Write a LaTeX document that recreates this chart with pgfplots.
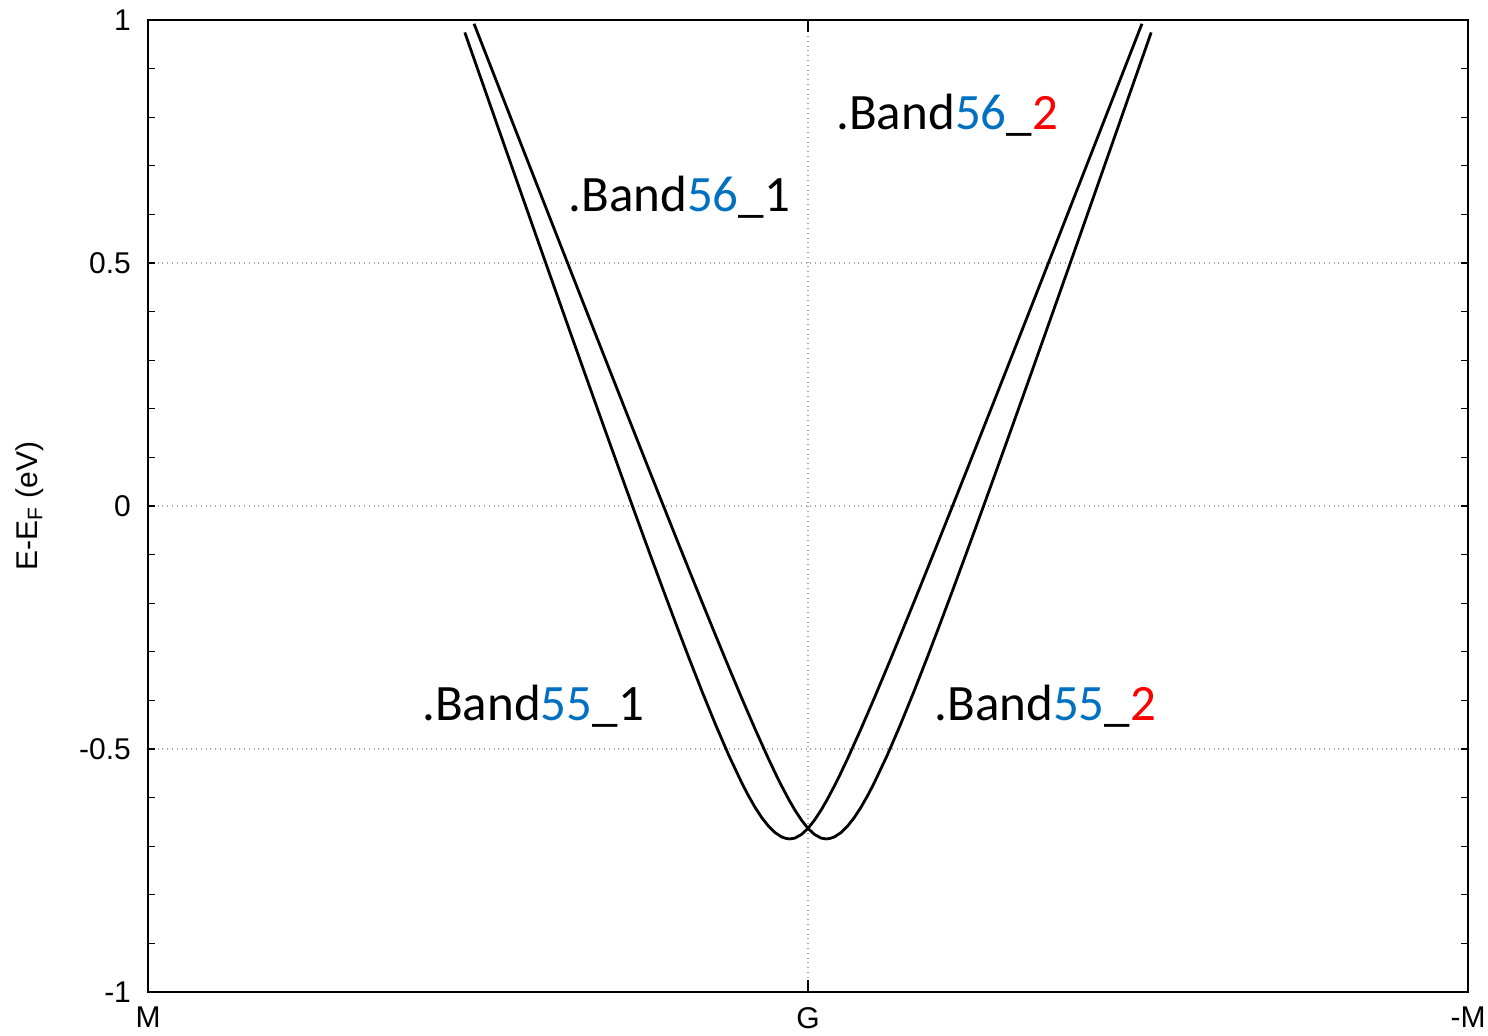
\documentclass[border=0pt]{standalone}
\usepackage{fontspec}
\setmainfont{Liberation Sans}
\newfontfamily\calibri{Carlito}
\usepackage{pgfplots}
\pgfplotsset{compat=1.18}
\definecolor{bandblue}{HTML}{0070C0}
\definecolor{bandred}{HTML}{FF0000}
\newcommand{\bandfont}{\calibri\fontsize{25.5}{30}\selectfont}
\begin{document}
\begin{tikzpicture}
\begin{axis}[
  scale only axis,
  width=660pt, height=486pt,
  xmin=-1, xmax=1, ymin=-1, ymax=1,
  axis line style={line width=1.2pt},
  font=\fontsize{15}{18}\selectfont,
  xtick={-1,0,1},
  xticklabels={M,G,-M},
  ytick={-1,-0.5,0,0.5,1},
  yticklabels={-1,-0.5,0,0.5,1},
  minor ytick={-0.9,-0.8,-0.7,-0.6,-0.4,-0.3,-0.2,-0.1,0.1,0.2,0.3,0.4,0.6,0.7,0.8,0.9},
  tick align=inside,
  major tick length=3.5pt,
  minor tick length=3.5pt,
  xtick style={/pgfplots/major tick length=6pt},
  tick style={line width=0.6pt, black},
  xticklabel style={yshift=-4pt},
  yticklabel style={xshift=-5pt},
  grid=major,
  major grid style={dotted, gray!70, line width=0.6pt},
  ylabel={E-E\textsubscript{F} (eV)},
  ylabel style={at={(axis description cs:-0.0894,0.5)}, anchor=center},
  clip=false,
]
% band with minimum left of G
\addplot[black, line width=1.4pt, line join=round] coordinates {
(-0.52,0.9744)(-0.50,0.8968)(-0.48,0.8193)(-0.46,0.7418)(-0.44,0.6644)(-0.42,0.5872)
(-0.40,0.5101)(-0.38,0.4332)(-0.36,0.3565)(-0.34,0.2800)(-0.32,0.2038)(-0.30,0.1279)
(-0.28,0.0524)(-0.26,-0.0225)(-0.24,-0.0969)(-0.22,-0.1704)(-0.20,-0.2429)(-0.18,-0.3141)
(-0.16,-0.3834)(-0.14,-0.4501)(-0.12,-0.5131)(-0.10,-0.5707)(-0.09,-0.5968)(-0.08,-0.6205)
(-0.07,-0.6413)(-0.06,-0.6586)(-0.05,-0.6720)(-0.04,-0.6809)(-0.033,-0.6842)(-0.0273,-0.6850)
(-0.02,-0.6834)(-0.01,-0.6760)(0,-0.6634)(0.01,-0.6462)(0.02,-0.6254)(0.03,-0.6018)
(0.04,-0.5760)(0.05,-0.5486)(0.06,-0.5198)(0.08,-0.4595)(0.10,-0.3966)(0.12,-0.3320)
(0.14,-0.2662)(0.16,-0.1996)(0.18,-0.1324)(0.20,-0.0647)(0.22,0.0034)(0.24,0.0717)
(0.26,0.1403)(0.28,0.2090)(0.30,0.2779)(0.32,0.3469)(0.34,0.4160)(0.36,0.4852)
(0.38,0.5545)(0.40,0.6239)(0.42,0.6933)(0.44,0.7627)(0.46,0.8322)(0.48,0.9018)
(0.50,0.9714)(0.506,0.9922)
};
% band with minimum right of G
\addplot[black, line width=1.4pt, line join=round] coordinates {
(-0.506,0.9922)(-0.50,0.9714)(-0.48,0.9018)(-0.46,0.8322)(-0.44,0.7627)(-0.42,0.6933)
(-0.40,0.6239)(-0.38,0.5545)(-0.36,0.4852)(-0.34,0.4160)(-0.32,0.3469)(-0.30,0.2779)
(-0.28,0.2090)(-0.26,0.1403)(-0.24,0.0717)(-0.22,0.0034)(-0.20,-0.0647)(-0.18,-0.1324)
(-0.16,-0.1996)(-0.14,-0.2662)(-0.12,-0.3320)(-0.10,-0.3966)(-0.08,-0.4595)(-0.06,-0.5198)
(-0.05,-0.5486)(-0.04,-0.5760)(-0.03,-0.6018)(-0.02,-0.6254)(-0.01,-0.6462)(0,-0.6634)
(0.01,-0.6760)(0.02,-0.6834)(0.0273,-0.6850)(0.033,-0.6842)(0.04,-0.6809)(0.05,-0.6720)
(0.06,-0.6586)(0.07,-0.6413)(0.08,-0.6205)(0.09,-0.5968)(0.10,-0.5707)(0.12,-0.5131)
(0.14,-0.4501)(0.16,-0.3834)(0.18,-0.3141)(0.20,-0.2429)(0.22,-0.1704)(0.24,-0.0969)
(0.26,-0.0225)(0.28,0.0524)(0.30,0.1279)(0.32,0.2038)(0.34,0.2800)(0.36,0.3565)
(0.38,0.4332)(0.40,0.5101)(0.42,0.5872)(0.44,0.6644)(0.46,0.7418)(0.48,0.8193)
(0.50,0.8968)(0.52,0.9744)
};
\node[anchor=base west, inner sep=0pt, font=\bandfont] at (axis cs:-0.3636,0.605)
  {.Band\textcolor{bandblue}{56}\_1};
\node[anchor=base west, inner sep=0pt, font=\bandfont] at (axis cs:0.0424,0.774)
  {.Band\textcolor{bandblue}{56}\_\textcolor{bandred}{2}};
\node[anchor=base west, inner sep=0pt, font=\bandfont] at (axis cs:-0.585,-0.442)
  {.Band\textcolor{bandblue}{55}\_1};
\node[anchor=base west, inner sep=0pt, font=\bandfont] at (axis cs:0.191,-0.442)
  {.Band\textcolor{bandblue}{55}\_\textcolor{bandred}{2}};
\end{axis}
\pgfresetboundingbox
\path (current axis.south west) ++(-74pt,-22pt) rectangle ([shift={(10pt,10pt)}]current axis.north east);
\end{tikzpicture}
\end{document}
